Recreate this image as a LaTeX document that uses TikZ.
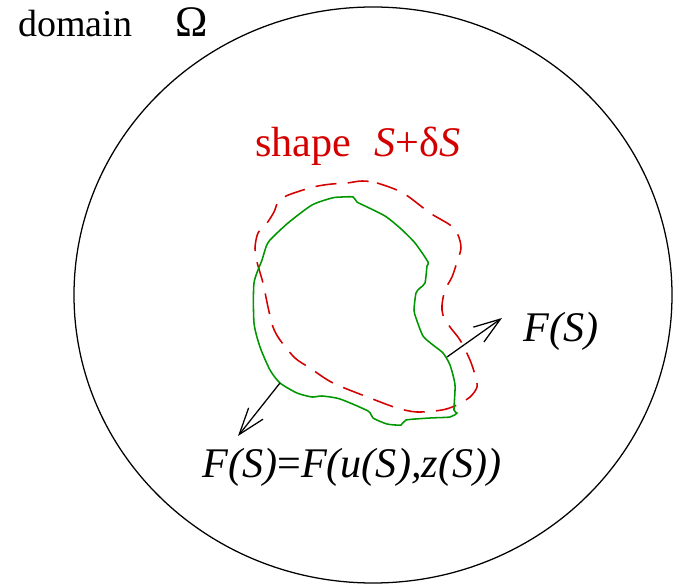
\documentclass[tikz,border=0pt]{standalone}
\usepackage{fontspec}
\setmainfont{Liberation Serif}
\usepackage{tikz}
\usetikzlibrary{arrows.meta, positioning}
\usepackage{xcolor}
\definecolor{shapeRed}{RGB}{212,0,0}
\definecolor{shapeGreen}{RGB}{0,150,0}

\begin{document}
\begin{tikzpicture}[
    x=0.025cm, y=-0.025cm,
    lbl/.style={anchor=base west, inner sep=0pt, font=\fontsize{30}{34}\selectfont},
    boundary/.style={line width=0.9pt},
    oldshape/.style={shapeGreen, line width=1.1pt},
    newshape/.style={shapeRed, line width=1.1pt, dash pattern=on 15pt off 8pt},
    normal/.style={line width=0.9pt},
    >={Straight Barb[length=19pt,width=13pt]}
]
\useasboundingbox (0,0) rectangle (673,584);

\draw[boundary] (373,295) ellipse [x radius=299, y radius=288];

\node[lbl, font=\fontsize{27}{30}\selectfont] (dom) at (18,37) {domain\hspace{1.15em}{\fontsize{31}{34}\selectfont Ω}};
\node[lbl, text=shapeRed] (shp) at (255,157) {shape\hspace{0.55em}\textit{S}+δ\textit{S}};

\draw[newshape] plot[smooth cycle, tension=0.5] coordinates {
    (362,181) (377,183) (403,193) (430,213) (450,225) (458,235) (461,248)
    (457,262) (452,277) (445,290) (442,305) (443,315) (450,327) (460,340)
    (470,360) (475,375) (477,387) (470,397) (457,405) (442,410) (417,412)
    (397,408) (370,398) (333,383) (310,368) (295,358) (280,340) (273,327)
    (268,307) (263,283) (257,262) (255,248) (258,233) (267,223) (274,212)
    (278,202) (286,196) (303,190) (318,186) (332,184) (347,183)};

\draw[oldshape] plot[smooth cycle, tension=0.4] coordinates {
    (342,197) (353,197) (357,202) (365,206) (385,216) (400,228) (415,243)
    (428,262) (427,266) (425,283) (420,288) (416,293) (414,310) (416,318)
    (423,336) (433,345) (443,353) (450,365) (455,385) (454,410) (457,413)
    (450,417) (430,418) (406,420) (401,425) (387,424) (373,418) (368,411)
    (340,399) (322,396) (312,397) (297,393) (280,383) (270,370) (260,347)
    (254,323) (254,283) (262,260) (266,247) (270,240) (288,223) (312,205)
    (332,198)};

\coordinate (nR) at (447,357);
\coordinate (tipR) at (502,318);
\coordinate (nL) at (280,383);
\coordinate (tipL) at (238,436);

\draw[normal, ->] (nR) -- (tipR);
\draw[normal, ->] (nL) -- (tipL);

\node[lbl] (fs) at (523,342) {\textit{F(S)}};
\node[lbl] (fsu) at (202,478) {\textit{F(S)}=\textit{F(u(S),z(S))}};
\end{tikzpicture}
\end{document}
